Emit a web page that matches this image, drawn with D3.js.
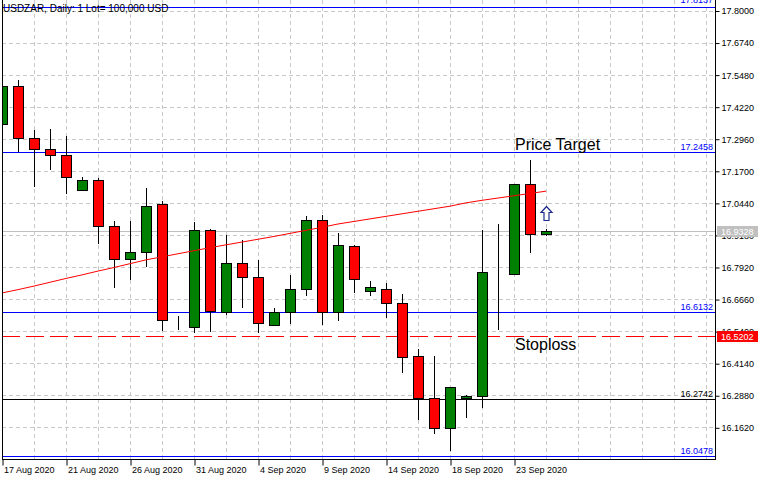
<!DOCTYPE html>
<html>
<head>
<meta charset="utf-8">
<script src="https://cdn.jsdelivr.net/npm/d3@7"></script>
<style>
  html, body { margin: 0; padding: 0; background: #fff; }
  svg { display: block; }
  text { font-family: "Liberation Sans", Arial, sans-serif; }
</style>
</head>
<body>
<div id="chart"></div>
<script>
// ---- data ----
const dates = ["17 Aug 2020","18 Aug 2020","19 Aug 2020","20 Aug 2020","21 Aug 2020","23 Aug 2020","24 Aug 2020","25 Aug 2020","26 Aug 2020","27 Aug 2020","28 Aug 2020","30 Aug 2020","31 Aug 2020","1 Sep 2020","2 Sep 2020","3 Sep 2020","4 Sep 2020","6 Sep 2020","7 Sep 2020","8 Sep 2020","9 Sep 2020","10 Sep 2020","11 Sep 2020","13 Sep 2020","14 Sep 2020","15 Sep 2020","16 Sep 2020","17 Sep 2020","18 Sep 2020","20 Sep 2020","21 Sep 2020","22 Sep 2020","23 Sep 2020","24 Sep 2020","25 Sep 2020"];
const open  = [17.355,17.502,17.300,17.257,17.234,17.096,17.132,16.955,16.822,16.849,17.039,16.558,16.555,16.939,16.616,16.806,16.753,16.563,16.614,16.705,16.975,16.616,16.873,16.696,16.704,16.649,16.441,16.278,16.160,16.278,16.284,16.770,16.765,17.117,16.920];
const high  = [17.510,17.525,17.329,17.336,17.305,17.145,17.142,16.972,16.972,17.103,17.050,16.599,16.968,16.940,16.917,16.897,16.819,16.630,16.760,16.992,16.997,16.925,16.878,16.736,16.729,16.685,16.470,16.442,16.320,16.290,16.937,16.960,17.118,17.211,16.943];
const low   = [17.345,17.247,17.110,17.177,17.083,17.095,16.887,16.712,16.745,16.797,16.544,16.549,16.537,16.541,16.609,16.636,16.537,16.563,16.573,16.681,16.568,16.583,16.693,16.683,16.596,16.380,16.196,16.141,16.073,16.204,16.241,16.547,16.764,16.851,16.919];
const close = [17.502,17.300,17.257,17.234,17.147,17.132,16.955,16.822,16.849,17.033,16.582,16.556,16.939,16.621,16.806,16.753,16.570,16.614,16.705,16.975,16.616,16.880,16.745,16.712,16.649,16.437,16.278,16.160,16.319,16.285,16.771,16.770,17.117,16.920,16.933];
const ma    = [16.690,16.703,16.717,16.732,16.747,16.761,16.776,16.790,16.805,16.820,16.832,16.844,16.856,16.868,16.879,16.890,16.901,16.912,16.924,16.936,16.948,16.961,16.971,16.981,16.991,17.001,17.011,17.021,17.031,17.044,17.054,17.063,17.072,17.081,17.090];
const yTicks = [17.8000,17.6740,17.5480,17.4220,17.2960,17.1700,17.0440,16.9180,16.7920,16.6660,16.5400,16.4140,16.2880,16.1620];
const xLabelIdx = [0,4,8,12,16,20,24,28,32];
const title = "USDZAR, Daily:  1 Lot= 100,000 USD";
const levelValues = [17.8137, 17.2458, 16.6132, 16.2742, 16.0478];
const levelColors = ["#0000ff","#0000ff","#0000ff","#000000","#0000ff"];
const stopLevel = 16.5202;
const currentPrice = 16.9328;
const annotations = [{text:"Price Target", value:17.2458, dy:-2}, {text:"Stoploss", value:16.5202, dy:14}];
const arrowIdx = 34;
const arrowValue = 17.03;

// ---- layout ----
const W = 768, H = 480;
const pLeft = 2, pRight = 715, pTop = 0, pBottom = 459;

const x = d3.scaleLinear().domain([0, 44]).range([2, 706]);
const y = d3.scaleLinear().domain([16.162, 17.8]).range([427.3, 10.5]);

const svg = d3.select("#chart").append("svg").attr("width", W).attr("height", H);
svg.append("rect").attr("width", W).attr("height", H).attr("fill", "#fff");

svg.append("defs").append("clipPath").attr("id", "plot")
  .append("rect").attr("x", pLeft + 0.5).attr("y", pTop).attr("width", pRight - pLeft).attr("height", pBottom - pTop);

const plot = svg.append("g").attr("clip-path", "url(#plot)");
const px = v => Math.round(v) + 0.5;

// grid
const gridIdx = d3.range(2, 45, 2);
plot.selectAll(".vg").data(gridIdx).enter().append("line")
  .attr("x1", d => px(x(d))).attr("x2", d => px(x(d)))
  .attr("y1", pTop).attr("y2", pBottom)
  .attr("stroke", "#c8c8c8").attr("stroke-dasharray", "4,3");
plot.selectAll(".hg").data(yTicks).enter().append("line")
  .attr("x1", pLeft).attr("x2", pRight)
  .attr("y1", d => px(y(d))).attr("y2", d => px(y(d)))
  .attr("stroke", "#c8c8c8").attr("stroke-dasharray", "4,3");

// current price line
plot.append("line").attr("x1", pLeft).attr("x2", pRight)
  .attr("y1", px(y(currentPrice))).attr("y2", px(y(currentPrice)))
  .attr("stroke", "#c0c0c0");

// level lines
levelValues.forEach((v, i) => {
  plot.append("line").attr("x1", pLeft).attr("x2", pRight)
    .attr("y1", px(y(v))).attr("y2", px(y(v)))
    .attr("stroke", levelColors[i]).attr("stroke-width", 1);
  const ly = Math.round(y(v)) - 2;
  plot.append("text").attr("x", 713).attr("y", ly < 8 ? ly - 2 : ly)
    .attr("text-anchor", "end").attr("font-size", "9px")
    .attr("fill", levelColors[i]).text(v.toFixed(4));
});

// stop line (dashed red)
plot.append("line").attr("x1", pLeft).attr("x2", pRight)
  .attr("y1", px(y(stopLevel))).attr("y2", px(y(stopLevel)))
  .attr("stroke", "#ff0000").attr("stroke-dasharray", "18,6");

// candles
const idx = d3.range(dates.length);
const cg = plot.append("g");
cg.selectAll(".wick").data(idx).enter().append("line")
  .attr("x1", i => px(x(i))).attr("x2", i => px(x(i)))
  .attr("y1", i => Math.round(y(high[i]))).attr("y2", i => Math.round(y(low[i])) + 1)
  .attr("stroke", "#000");
cg.selectAll(".body").data(idx).enter().append("rect")
  .attr("x", i => Math.round(x(i)) - 5 + 0.5)
  .attr("width", 10)
  .attr("y", i => px(y(Math.max(open[i], close[i]))))
  .attr("height", i => Math.max(0, px(y(Math.min(open[i], close[i]))) - px(y(Math.max(open[i], close[i])))))
  .attr("fill", i => close[i] > open[i] ? "#008000" : (close[i] < open[i] ? "#ff0000" : "#000"))
  .attr("stroke", "#000").attr("stroke-width", 1);

// moving average
plot.append("path").datum(idx)
  .attr("d", d3.line().x(i => x(i)).y(i => y(ma[i])))
  .attr("fill", "none").attr("stroke", "#ff0000").attr("stroke-width", 1);

// annotations
annotations.forEach(a => {
  plot.append("text").attr("x", 515).attr("y", Math.round(y(a.value)) + a.dy)
    .attr("font-size", "16px").attr("fill", "#000").text(a.text);
});

// arrow
const ax = Math.round(x(arrowIdx)) + 0.5, ay = Math.round(y(arrowValue)) + 0.5;
plot.append("path")
  .attr("d", `M${ax},${ay} L${ax+5.5},${ay+6} L${ax+2.5},${ay+6} L${ax+2.5},${ay+14} L${ax-2.5},${ay+14} L${ax-2.5},${ay+6} L${ax-5.5},${ay+6} Z`)
  .attr("fill", "#fff").attr("stroke", "#1c2a8a").attr("stroke-width", 1.2);

// title
svg.append("text").attr("x", 3).attr("y", 12).attr("font-size", "10px").attr("fill", "#000").text(title);

// frame
svg.append("line").attr("x1", 2.5).attr("x2", 2.5).attr("y1", 0).attr("y2", pBottom + 0.5).attr("stroke", "#000");
svg.append("line").attr("x1", 2).attr("x2", pRight + 1).attr("y1", pBottom + 0.5).attr("y2", pBottom + 0.5).attr("stroke", "#000");
svg.append("line").attr("x1", pRight + 0.5).attr("x2", pRight + 0.5).attr("y1", 0).attr("y2", pBottom + 0.5).attr("stroke", "#000");

// y axis
const yAxis = d3.axisRight(y).tickValues(yTicks).tickSize(4).tickPadding(2).tickFormat(d3.format(".4f"));
const gy = svg.append("g").attr("transform", `translate(${pRight + 0.5},0.5)`).call(yAxis);
gy.select(".domain").remove();
gy.selectAll("text").attr("font-size", "9px").attr("font-family", "Liberation Sans, Arial, sans-serif").attr("fill", "#000");
gy.selectAll("line").attr("stroke", "#000");

// x axis
const xAxis = d3.axisBottom(x).tickValues(xLabelIdx).tickSize(6).tickFormat(i => dates[i]);
const gx = svg.append("g").attr("transform", `translate(0.5,${pBottom + 0.5})`).call(xAxis);
gx.select(".domain").remove();
gx.selectAll("text").attr("font-size", "9px").attr("font-family", "Liberation Sans, Arial, sans-serif")
  .attr("fill", "#000").attr("text-anchor", "start").attr("x", 1).attr("dy", "0.55em");
gx.selectAll("line").attr("stroke", "#000");

// price labels on axis
function axisTag(v, bg) {
  const cy = Math.round(y(v));
  svg.append("rect").attr("x", 717).attr("y", cy - 5).attr("width", 41).attr("height", 11).attr("fill", bg);
  svg.append("text").attr("x", 721).attr("y", cy + 3.5).attr("font-size", "9px").attr("fill", "#fff").text(v.toFixed(4));
}
axisTag(currentPrice, "#c0c0c0");
axisTag(stopLevel, "#ff0000");
</script>
</body>
</html>
